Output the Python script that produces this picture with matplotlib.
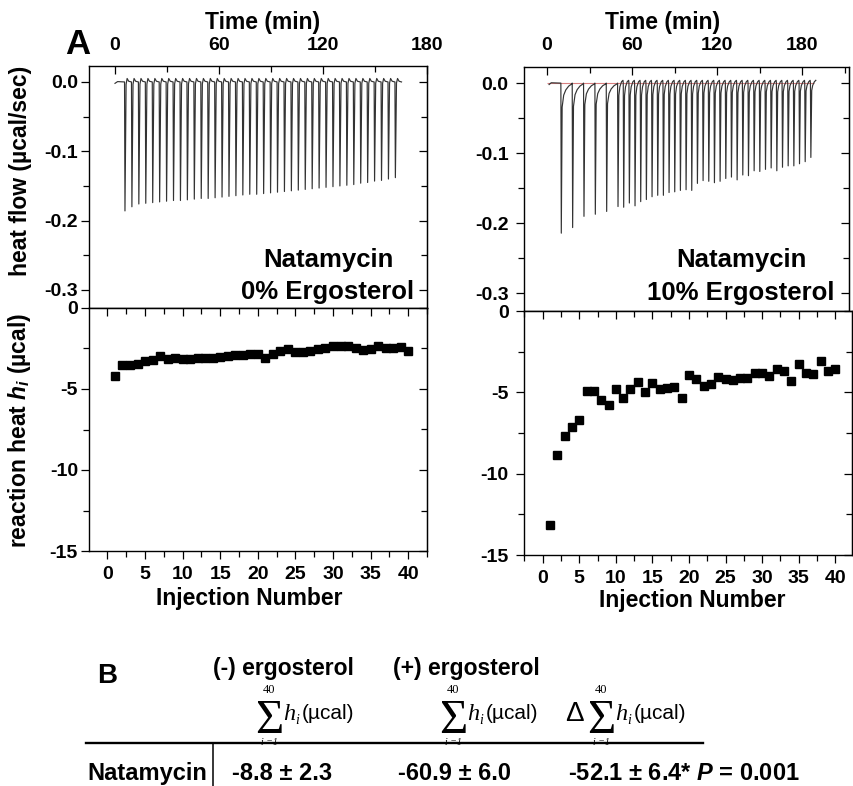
import numpy as np
import matplotlib.pyplot as plt
from matplotlib.ticker import MultipleLocator, FuncFormatter
from matplotlib.lines import Line2D

plt.rcParams['font.family'] = ['Liberation Sans', 'DejaVu Sans']
plt.rcParams['font.weight'] = 'bold'
plt.rcParams['axes.unicode_minus'] = False
plt.rcParams['mathtext.fontset'] = 'custom'
plt.rcParams['mathtext.it'] = 'Liberation Sans:italic:bold'
plt.rcParams['mathtext.rm'] = 'Liberation Sans:bold'

W, H = 854, 786

# ---- data ----
inj_no = np.arange(1, 41)

# reaction heat per injection (µcal)
heat_0 = [-4.21, -3.50, -3.54, -3.44, -3.29, -3.19, -2.98, -3.17, -3.10, -3.15,
          -3.15, -3.08, -3.08, -3.08, -3.02, -2.94, -2.92, -2.92, -2.85, -2.83,
          -3.06, -2.81, -2.65, -2.56, -2.71, -2.71, -2.65, -2.56, -2.44, -2.35,
          -2.35, -2.35, -2.44, -2.60, -2.56, -2.35, -2.48, -2.44, -2.40, -2.65]
heat_10 = [-13.18, -8.86, -7.67, -7.12, -6.73, -4.92, -4.90, -5.47, -5.76, -4.82,
           -5.35, -4.82, -4.39, -4.96, -4.41, -4.78, -4.73, -4.65, -5.33, -3.96,
           -4.18, -4.61, -4.49, -4.08, -4.20, -4.24, -4.14, -4.14, -3.80, -3.80,
           -4.00, -3.59, -3.69, -4.29, -3.27, -3.80, -3.88, -3.06, -3.69, -3.55]

# injection times (min) and peak heat flow (µcal/sec) of the raw thermograms
t_inj_0 = [5.5, 9.5, 13.5, 17.5, 21.5, 25.5, 29.5, 33.5, 37.5, 41.5,
           45.5, 49.5, 53.5, 57.5, 61.5, 65.5, 69.5, 73.5, 77.5, 81.5,
           85.5, 89.5, 93.5, 97.5, 101.5, 105.5, 109.5, 113.5, 117.5, 121.5,
           125.5, 129.5, 133.5, 137.5, 141.5, 145.5, 149.5, 153.5, 157.5, 161.5]
peak_0 = [-0.186, -0.180, -0.176, -0.175, -0.174, -0.173, -0.172, -0.171, -0.171, -0.170,
          -0.169, -0.168, -0.168, -0.167, -0.166, -0.165, -0.164, -0.163, -0.162, -0.162,
          -0.161, -0.160, -0.159, -0.158, -0.157, -0.156, -0.155, -0.154, -0.153, -0.152,
          -0.151, -0.150, -0.149, -0.148, -0.146, -0.145, -0.143, -0.142, -0.140, -0.138]
t_inj_10 = [9.8, 17.8, 25.8, 33.8, 41.8, 49.8, 53.8, 57.8, 61.8, 65.8,
            69.8, 73.8, 77.8, 81.8, 85.8, 89.8, 93.8, 97.8, 101.8, 105.8,
            109.8, 113.8, 117.8, 121.8, 125.8, 129.8, 133.8, 137.8, 141.8, 145.8,
            149.8, 153.8, 157.8, 161.8, 165.8, 169.8, 173.8, 177.8, 181.8, 185.8]
peak_10 = [-0.214, -0.206, -0.190, -0.187, -0.183, -0.176, -0.177, -0.171, -0.175, -0.169,
           -0.166, -0.162, -0.160, -0.160, -0.156, -0.155, -0.153, -0.152, -0.153, -0.143,
           -0.139, -0.140, -0.142, -0.140, -0.136, -0.134, -0.138, -0.131, -0.132, -0.125,
           -0.126, -0.123, -0.121, -0.125, -0.120, -0.118, -0.118, -0.115, -0.112, -0.106]

row_label = 'Natamycin'
col_headers = ['(-) ergosterol', '(+) ergosterol']
row_vals = ['-8.8 ± 2.3', '-60.9 ± 6.0', '-52.1 ± 6.4* $P$ = 0.001']

# spike shapes: (time after injection, fraction of peak, offset)
fast_shape = [(0, 0, 0), (0.25, 1, 0), (0.9, 0.04, 0.004), (1.5, 0, 0.005), (2.4, 0, 0.001), (3.8, 0, 0)]
slow_shape = [(0, 0, 0), (0.3, 1, 0), (0.9, 0.16, 0), (2.0, 0.08, 0), (3.5, 0.045, 0),
              (5.5, 0.02, 0), (7.6, 0.006, 0)]
mid_shape = [(0, 0, 0), (0.3, 1, 0), (0.9, 0.1, 0), (1.6, 0.03, 0), (2.8, 0, 0.002), (3.8, 0, 0.004)]


def build_trace(t0, times, peaks, shape_of):
    tt, yy = [t0, t0 + 1.5], [-0.002, 0.0005]
    for k, (ti, p) in enumerate(zip(times, peaks)):
        for dt, frac, off in shape_of(k):
            tt.append(ti + dt)
            yy.append(frac * p + off)
    return tt, yy


def fbox(x0, y0, x1, y1):
    return [x0 / W, 1 - y1 / H, (x1 - x0) / W, (y1 - y0) / H]


def ftext(x, y, s, **kw):
    fig.text(x / W, 1 - y / H, s, **kw)


fig = plt.figure(figsize=(W / 100, H / 100), dpi=100)

ax_tl = fig.add_axes(fbox(89, 66, 427, 308))
ax_bl = fig.add_axes(fbox(89, 308, 427, 551))
ax_tr = fig.add_axes(fbox(524, 67, 849, 311))
ax_br = fig.add_axes(fbox(524, 311, 852, 555))

tick_kw = dict(width=0.9, labelsize=14)


def style_top(ax, xlim, ylim, ypad):
    ax.set_xlim(*xlim)
    ax.set_ylim(*ylim)
    ax.xaxis.set_ticks_position('top')
    ax.set_xticks([0, 60, 120, 180])
    ax.xaxis.set_minor_locator(MultipleLocator(30))
    ax.tick_params(axis='x', which='both', direction='in', top=True, bottom=False,
                   labeltop=True, labelbottom=False, pad=9, **tick_kw)
    ax.tick_params(axis='x', which='major', length=6)
    ax.tick_params(axis='x', which='minor', length=4)
    ax.yaxis.set_major_locator(MultipleLocator(0.1))
    ax.yaxis.set_minor_locator(MultipleLocator(0.05))
    ax.yaxis.set_major_formatter(FuncFormatter(lambda v, p: f'{v + 0:.1f}'))
    ax.tick_params(axis='y', which='both', direction='out', right=False, pad=ypad, **tick_kw)
    ax.tick_params(axis='y', which='major', length=6)
    ax.tick_params(axis='y', which='minor', length=4)
    sec = ax.secondary_yaxis('right')
    sec.yaxis.set_major_locator(MultipleLocator(0.1))
    sec.yaxis.set_minor_locator(MultipleLocator(0.05))
    sec.tick_params(axis='y', which='both', direction='in', labelright=False, width=0.9)
    sec.tick_params(axis='y', which='major', length=6)
    sec.tick_params(axis='y', which='minor', length=4)
    for s in ax.spines.values():
        s.set_linewidth(1.0)


def style_bottom(ax, xlim, ypad):
    ax.set_xlim(*xlim)
    ax.set_ylim(-15, 0)
    ax.xaxis.set_major_locator(MultipleLocator(5))
    ax.xaxis.set_minor_locator(MultipleLocator(2.5))
    ax.yaxis.set_major_locator(MultipleLocator(5))
    ax.yaxis.set_minor_locator(MultipleLocator(2.5))
    ax.tick_params(axis='x', which='both', direction='out', top=False, pad=5, **tick_kw)
    ax.tick_params(axis='y', which='both', direction='out', right=False, pad=ypad, **tick_kw)
    ax.tick_params(which='major', length=6)
    ax.tick_params(which='minor', length=4)
    secx = ax.secondary_xaxis('top')
    secx.xaxis.set_major_locator(MultipleLocator(5))
    secx.xaxis.set_minor_locator(MultipleLocator(2.5))
    secx.tick_params(axis='x', which='both', direction='in', labeltop=False, width=0.9)
    secx.tick_params(which='major', length=6)
    secx.tick_params(which='minor', length=4)
    secy = ax.secondary_yaxis('right')
    secy.yaxis.set_major_locator(MultipleLocator(5))
    secy.yaxis.set_minor_locator(MultipleLocator(2.5))
    secy.tick_params(axis='y', which='both', direction='in', labelright=False, width=0.9)
    secy.tick_params(which='major', length=6)
    secy.tick_params(which='minor', length=4)
    for s in ax.spines.values():
        s.set_linewidth(1.0)


# raw thermograms
t0, y0 = build_trace(0, t_inj_0, peak_0, lambda k: fast_shape)
ax_tl.plot(t0, y0, color='#333333', lw=0.85)
style_top(ax_tl, (-15, 180), (-0.326, 0.023), 2)

t10, y10 = build_trace(1.5, t_inj_10, peak_10, lambda k: slow_shape if k < 5 else mid_shape)
ax_tr.hlines(0, 0, 188, color='#d98080', lw=0.8)
ax_tr.plot(t10, y10, color='#333333', lw=0.85)
style_top(ax_tr, (-16.2, 213), (-0.325, 0.023), 5)

# integrated heats
ax_bl.plot(inj_no, heat_0, 's', color='black', markersize=6)
style_bottom(ax_bl, (-2.45, 42.5), 2)
ax_br.plot(inj_no, heat_10, 's', color='black', markersize=6)
style_bottom(ax_br, (-2.56, 42.3), 5)

# annotations and axis titles
ftext(65, 45, 'A', fontsize=25, va='center', ha='left')
ftext(263, 22, 'Time (min)', fontsize=16.5, ha='center', va='center')
ftext(663, 23, 'Time (min)', fontsize=16.5, ha='center', va='center')
ftext(21, 171, 'heat flow (µcal/sec)', fontsize=16.5, rotation=90, ha='center', va='center')
ftext(20, 430, 'reaction heat $h_i$ (µcal)', fontsize=16.5, rotation=90, ha='center', va='center')
ftext(249, 598, 'Injection Number', fontsize=16.5, ha='center', va='center')
ftext(692, 600, 'Injection Number', fontsize=16.5, ha='center', va='center')
ftext(328, 260, 'Natamycin', fontsize=18.5, ha='center', va='center')
ftext(328, 292, '0% Ergosterol', fontsize=18.5, ha='center', va='center')
ftext(741, 260, 'Natamycin', fontsize=18.5, ha='center', va='center')
ftext(741, 293, '10% Ergosterol', fontsize=18.5, ha='center', va='center')

# table B
ftext(97, 683, 'B', fontsize=20, va='baseline')
ftext(213, 675, col_headers[0], fontsize=16.5, va='baseline')
ftext(393, 675, col_headers[1], fontsize=16.5, va='baseline')
serif_kw = dict(family='Liberation Serif', fontweight='normal')
for xs in [258, 442, 590]:
    ftext(xs + 11, 733, 'Σ', fontsize=35, ha='center', va='baseline', **serif_kw)
    ftext(xs + 11, 693, '40', fontsize=9, ha='center', va='baseline', **serif_kw)
    ftext(xs + 11, 745, 'i =1', fontsize=7, ha='center', va='baseline', style='italic', **serif_kw)
    ftext(xs + 25, 720, 'h', fontsize=17.5, va='baseline', style='italic', **serif_kw)
    ftext(xs + 37.5, 724, 'i', fontsize=10, va='baseline', style='italic', **serif_kw)
    ftext(xs + 44, 719, '(µcal)', fontsize=15, fontweight='normal', va='baseline')
ftext(565, 721, 'Δ', fontsize=20, fontweight='normal', va='baseline')
fig.add_artist(Line2D([86 / W, 703 / W], [1 - 743 / H, 1 - 743 / H], color='black', lw=1.7))
fig.add_artist(Line2D([213 / W, 213 / W], [1 - 743 / H, 0], color='black', lw=1.1))
ftext(87, 780, row_label, fontsize=17, va='baseline')
for x, s in zip([232, 398, 568], row_vals):
    ftext(x, 780, s, fontsize=17, va='baseline')

fig.savefig('out.png', dpi=100)
